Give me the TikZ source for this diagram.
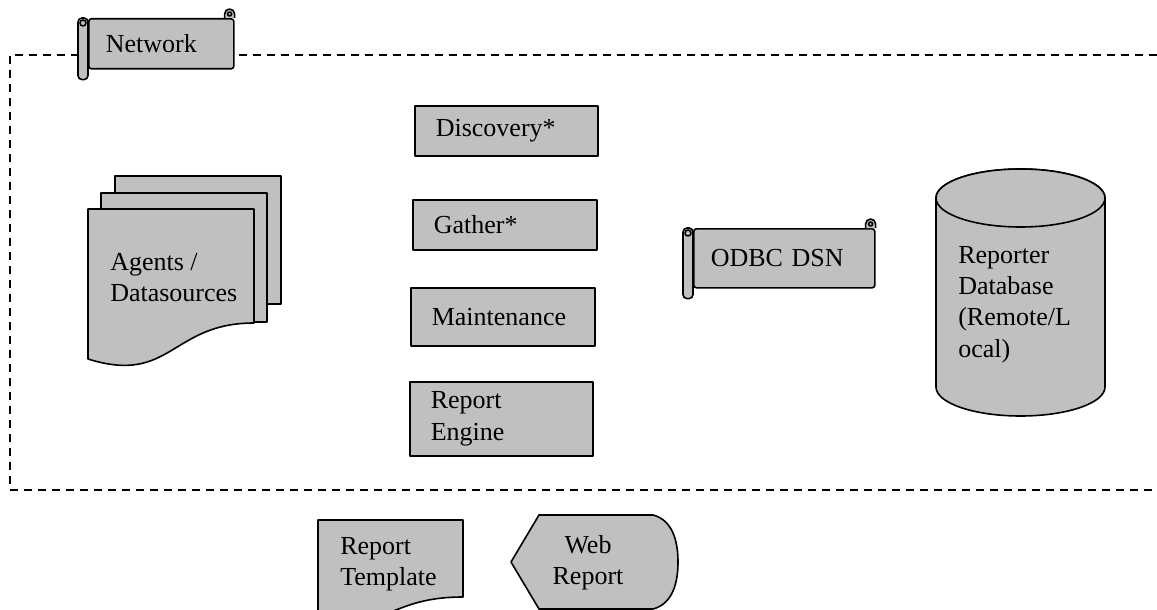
\documentclass[tikz,border=0pt]{standalone}
\usepackage{fontspec}
\setmainfont{Liberation Serif}
\usepackage{tikz}
\usetikzlibrary{calc}
\definecolor{silver}{RGB}{192,192,192}
\newlength{\unitpx}
\setlength{\unitpx}{0.75pt}
\tikzstyle{part}=[draw=black, line width=1.2pt, fill=silver, line join=round]
\tikzstyle{procbox}=[part, rectangle, anchor=north west, align=left, inner xsep=21\unitpx, inner ysep=0pt]
\tikzstyle{scrollbody}=[procbox, inner xsep=17\unitpx, rounded corners=2pt]
\tikzstyle{txt}=[inner sep=0pt, align=left, anchor=north west]
\tikzstyle{boundary}=[line width=1.1pt, dash pattern=on 6pt off 4.5pt]

\begin{document}
\begin{tikzpicture}[x=0.75pt, y=-0.75pt, font=\fontsize{19.5}{23.5}\selectfont]
	\useasboundingbox (0,0) rectangle (1157,610);
	\clip (0,0) rectangle (1157,610);
	% network boundary, open on the right
	\draw[boundary] (1157,55) -- (10,55) -- (10,490) -- (1157,490);
	% scrolls
	\node[scrollbody, text width=111\unitpx, minimum height=50\unitpx] (network) at (88,18) {Network};
	\node[scrollbody, text width=147\unitpx, minimum height=59\unitpx] (odbc) at (693,228) {ODBC DSN};
	\foreach \s in {network,odbc}{
		% rolled left end
		\draw[part, rounded corners=4\unitpx] ($(\s.north west)+(-10,0)$) rectangle ($(\s.south west)+(0,10)$);
		\draw[part] ($(\s.north west)+(-5,5)$) circle[radius=3\unitpx];
		% curl at the top right
		\draw[part] ($(\s.north east)+(-10,0)$) -- ++(0,-4) arc[start angle=180, end angle=0, radius=5\unitpx] -- (\s.north east);
		\draw[part] ($(\s.north east)+(-5,-4)$) circle[radius=2\unitpx];
	}
	% agents: pages behind, then the front document
	\foreach \dx/\dy/\b in {27/33/304, 13/16/322}{
		\draw[part] (88+\dx,209-\dy) rectangle (254+\dx,\b);
	}
	\draw[part] (88,209) -- (254,209) -- (254,323) .. controls (171,323) and (171,385) .. (88,359) -- cycle;
	\node[txt] (agents) at (110,253) {Agents /\\Datasources};
	% reporter processes
	\node[procbox, text width=141\unitpx, minimum height=50\unitpx] (discovery) at (414,105) {Discovery*};
	\node[procbox, text width=142\unitpx, minimum height=50\unitpx] (gather) at (412,199) {Gather*};
	\node[procbox, text width=142\unitpx, minimum height=58\unitpx] (maint) at (410,287) {Maintenance};
	\node[procbox, text width=141\unitpx, minimum height=74\unitpx] (engine) at (409,381) {Report\\Engine};
	% database cylinder
	\draw[part] (936,198) -- (936,387) arc[start angle=180, end angle=360, x radius=84.5\unitpx, y radius=29\unitpx] -- (1105,198) arc[start angle=0, end angle=180, x radius=84.5\unitpx, y radius=29\unitpx] -- cycle;
	\draw[part] (1020.5,198) ellipse[x radius=84.5\unitpx, y radius=29\unitpx];
	\node[txt] (reporterdb) at (958,246) {Reporter\\Database\\(Remote/L\\ocal)};
	% outside the network
	\draw[part] (318,520) -- (463,520) -- (463,597) .. controls (390,597) and (390,630) .. (318,620) -- cycle;
	\node[txt] (template) at (340,537) {Report\\Template};
	\draw[part] (511,562) -- (539,515) -- (653,515) .. controls (672,520) and (678,540) .. (678,562) .. controls (678,584) and (672,604) .. (653,609) -- (539,609) -- cycle;
	\node[txt, align=center, anchor=north] (webreport) at (588,535) {Web\\Report};
\end{tikzpicture}
\end{document}
